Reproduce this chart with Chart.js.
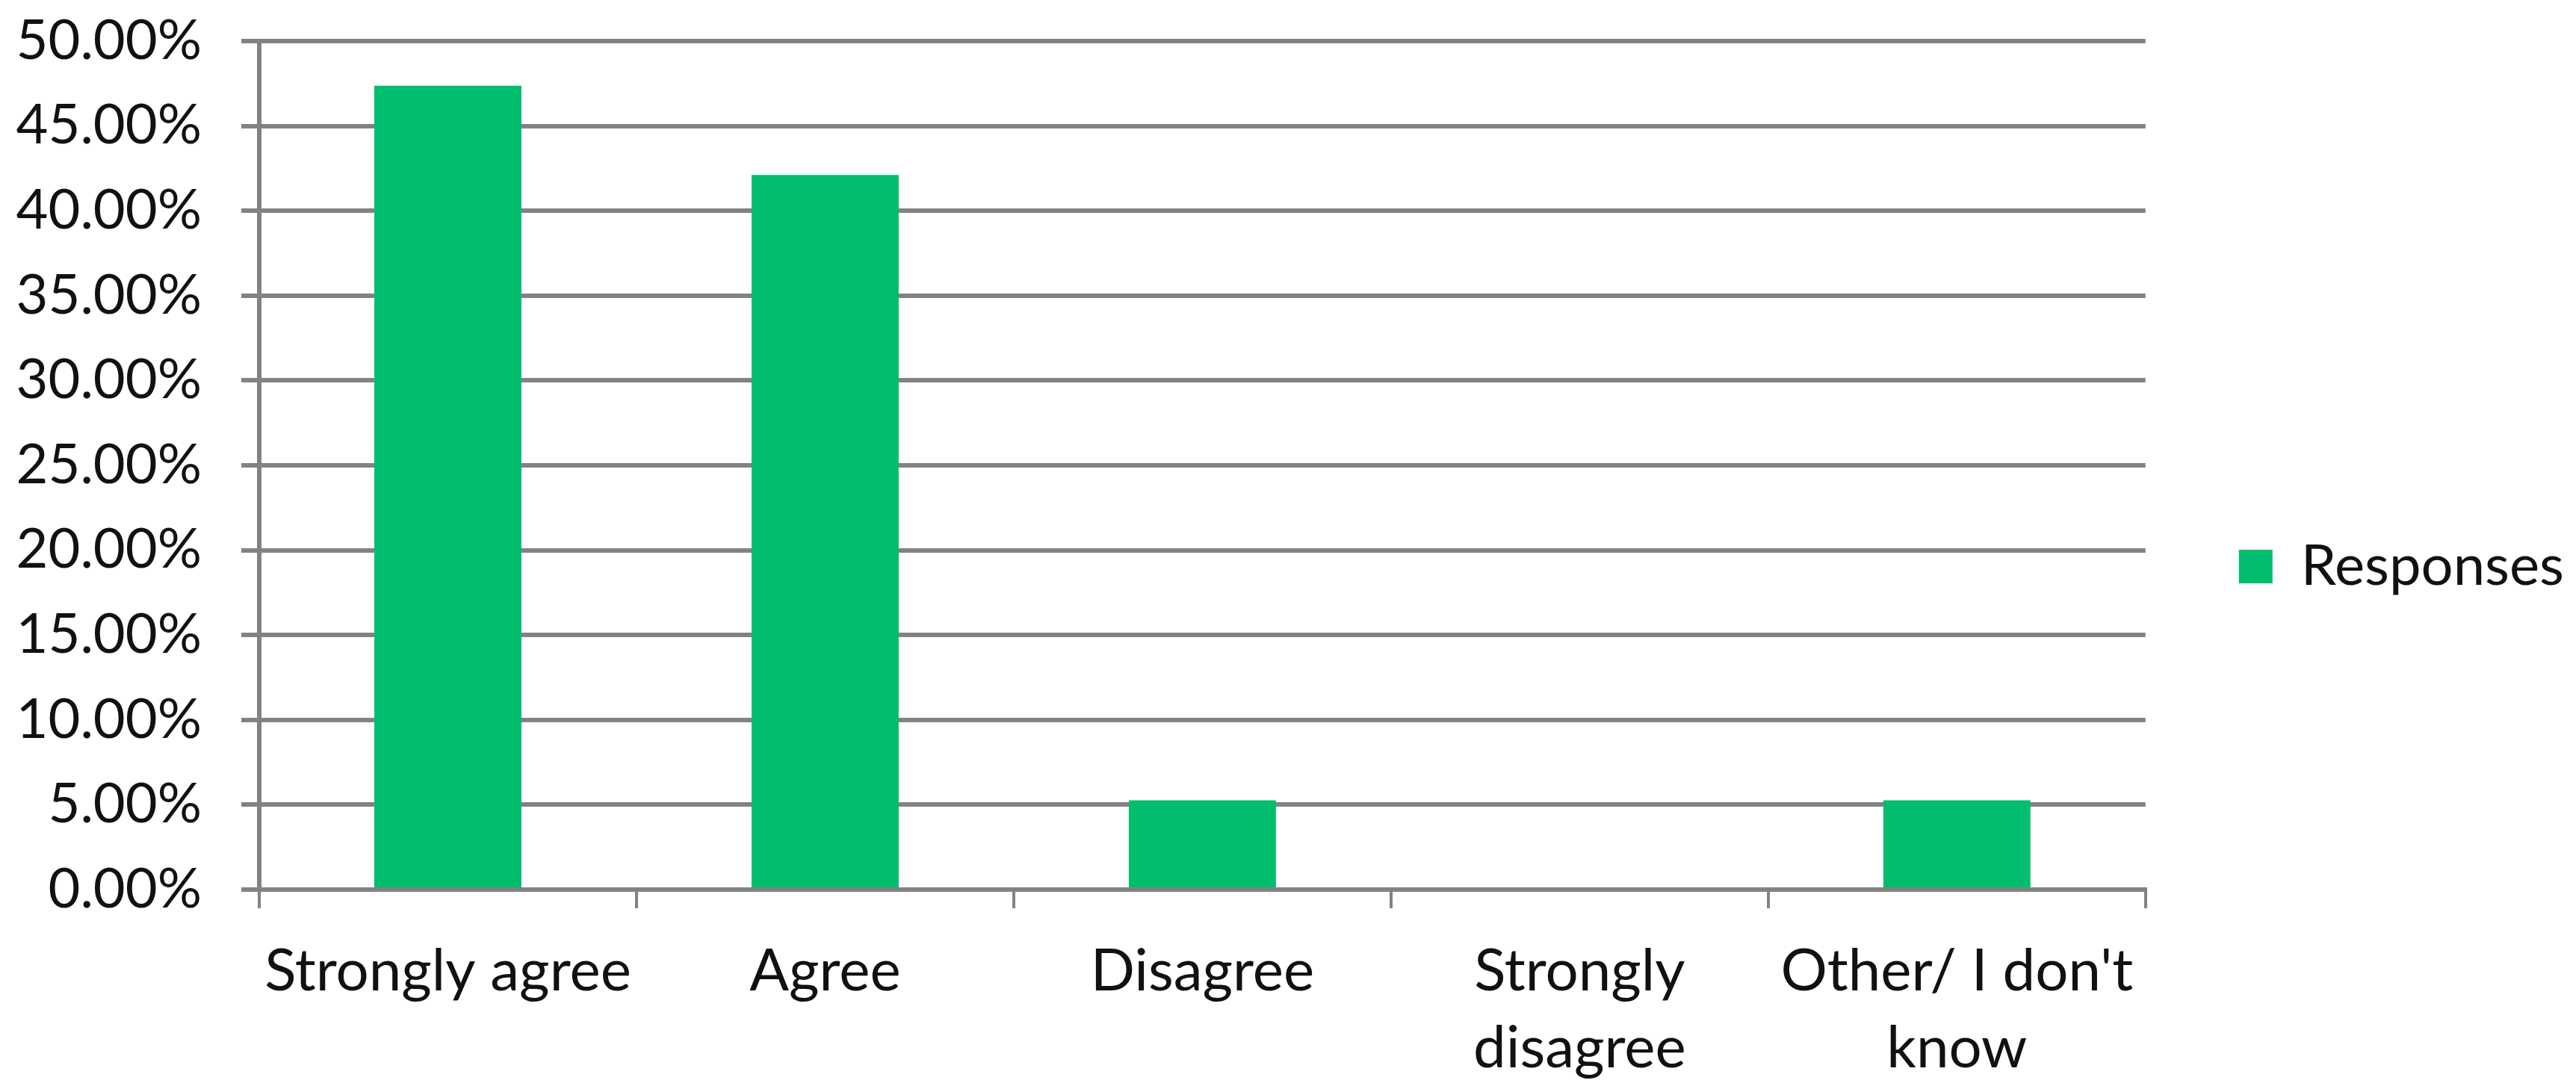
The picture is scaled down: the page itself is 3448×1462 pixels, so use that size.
<!DOCTYPE html>
<html><head><meta charset="utf-8">
<script src="https://cdn.jsdelivr.net/npm/chart.js@4"></script>
<style>html,body{margin:0;padding:0;background:#fff}#wrap{width:3448px;height:1462px}</style>
</head><body><div id="wrap"><canvas id="c" width="3448" height="1462"></canvas></div>
<script>
const categories = [['Strongly agree'], ['Agree'], ['Disagree'], ['Strongly', 'disagree'], ["Other/ I don't", 'know']];
const seriesName = 'Responses';
const responses = [47.37, 42.11, 5.26, 0, 5.26];
const yTickValues = [0, 5, 10, 15, 20, 25, 30, 35, 40, 45, 50];
const yTickLabels = ['0.00%', '5.00%', '10.00%', '15.00%', '20.00%', '25.00%', '30.00%', '35.00%', '40.00%', '45.00%', '50.00%'];

const GRID = '#828282';
const TEXT = '#111111';
const BAR = '#00BE6E';
const FONT = 'Lato';

new Chart(document.getElementById('c'), {
  type: 'bar',
  data: {
    labels: categories,
    datasets: [{
      label: seriesName,
      data: responses,
      backgroundColor: BAR,
      borderWidth: 0,
      categoryPercentage: 1.0,
      barPercentage: 0.39
    }]
  },
  options: {
    responsive: false,
    animation: false,
    devicePixelRatio: 1,
    layout: { padding: { left: 0, top: 55, right: 6, bottom: 0 } },
    plugins: {
      tooltip: { enabled: false },
      legend: {
        position: 'right',
        labels: {
          boxWidth: 45,
          boxHeight: 45,
          padding: 125,
          color: TEXT,
          font: { family: FONT, size: 76 }
        }
      }
    },
    scales: {
      x: {
        afterFit: (scale) => { scale.height = 271; },
        grid: { display: true, drawOnChartArea: false, drawTicks: true, tickLength: 25, color: GRID, lineWidth: 4, offset: true },
        border: { display: true, color: GRID, width: 6 },
        ticks: { color: TEXT, font: { family: FONT, size: 78, lineHeight: 1.32 }, padding: 33, maxRotation: 0, minRotation: 0, autoSkip: false }
      },
      y: {
        min: 0,
        max: 50,
        afterFit: (scale) => { scale.width = 347; scale.paddingTop = 0; scale.paddingBottom = 0; },
        afterBuildTicks: (scale) => { scale.ticks = yTickValues.map(v => ({ value: v })); },
        ticks: {
          color: TEXT,
          font: { family: FONT, size: 74 },
          padding: 53,
          callback: (v) => yTickLabels[yTickValues.indexOf(v)]
        },
        grid: { color: GRID, lineWidth: 6, tickLength: 24, drawTicks: true },
        border: { display: true, color: GRID, width: 6 }
      }
    }
  }
});
</script>
</body></html>
